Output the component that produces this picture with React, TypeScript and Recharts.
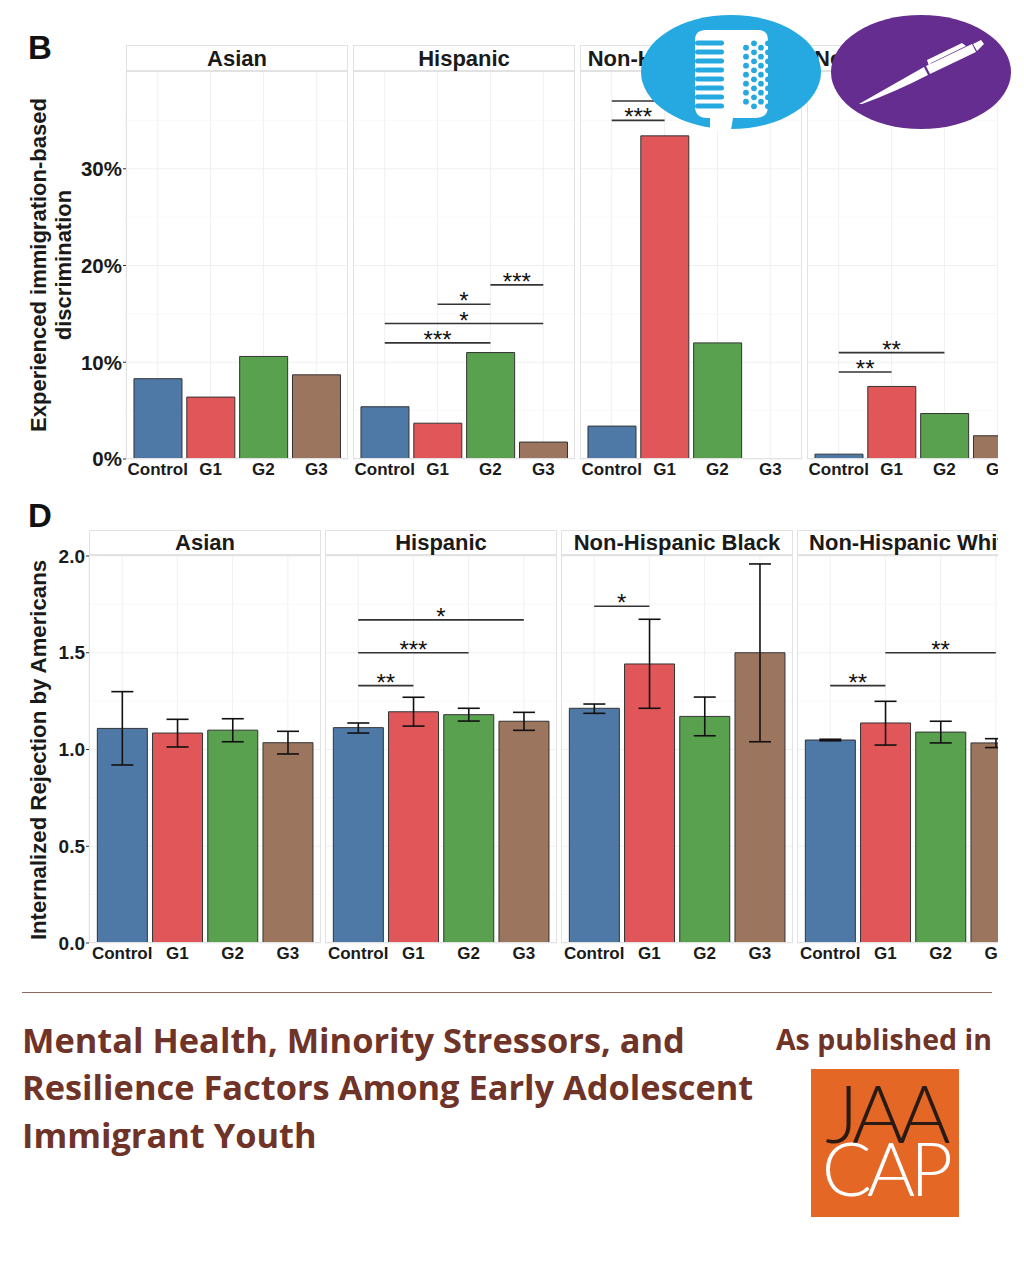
import React from "react";
import {
  BarChart,
  Bar,
  Cell,
  XAxis,
  YAxis,
  CartesianGrid,
  ErrorBar,
  ReferenceLine,
} from "recharts";

const groups = ["Control", "G1", "G2", "G3"];
const groupColors = ["#4e79a7", "#e15759", "#59a14f", "#9c755f"];

// panel B, percent
const asianB = [8.3, 6.4, 10.6, 8.7];
const hispanicB = [5.4, 3.7, 11, 1.75];
const blackB = [3.4, 33.4, 12, 0];
const whiteB = [0.5, 7.5, 4.7, 2.4];

const hispanicBSig = [
  ["Control", "G2", 12, "***"],
  ["Control", "G3", 14, "*"],
  ["G1", "G2", 16, "*"],
  ["G2", "G3", 18, "***"],
];
const blackBSig = [
  ["Control", "G1", 35, "***"],
  ["Control", "G2", 37, ""],
];
const whiteBSig = [
  ["Control", "G1", 9, "**"],
  ["Control", "G2", 11, "**"],
];

// panel D, mean with error bar ends
const asianD = [1.109, 1.085, 1.1, 1.035];
const asianDLow = [0.92, 1.013, 1.04, 0.977];
const asianDHigh = [1.299, 1.156, 1.159, 1.094];
const hispanicD = [1.113, 1.195, 1.18, 1.146];
const hispanicDLow = [1.085, 1.121, 1.147, 1.099];
const hispanicDHigh = [1.137, 1.27, 1.213, 1.192];
const blackD = [1.213, 1.442, 1.171, 1.5];
const blackDLow = [1.187, 1.213, 1.071, 1.04];
const blackDHigh = [1.235, 1.673, 1.271, 1.959];
const whiteD = [1.049, 1.137, 1.09, 1.034];
const whiteDLow = [1.045, 1.023, 1.034, 1.01];
const whiteDHigh = [1.053, 1.249, 1.146, 1.056];

const hispanicDSig = [
  ["Control", "G1", 1.33, "**"],
  ["Control", "G2", 1.5, "***"],
  ["Control", "G3", 1.67, "*"],
];
const blackDSig = [["Control", "G1", 1.74, "*"]];
const whiteDSig = [
  ["Control", "G1", 1.33, "**"],
  ["G1", "G3", 1.5, "**"],
];

const ticksB = [0, 10, 20, 30];
const minorB = [5, 15, 25, 35];
const ticksD = [0, 0.5, 1, 1.5, 2];
const minorD = [0.25, 0.75, 1.25, 1.75];

const SANS = "'Liberation Sans', Arial, sans-serif";
const AXIS_W = 60;
const TOP_PAD = 12;
const BOTTOM_PAD = 30;

function Facet(props: any) {
  const { title, x, width, clipTo, plotTop, plotBottom, stripH, values, low, high, sig, domain, ticks, minor, tickFmt, tickFont, showAxis } = props;
  const plotH = plotBottom - plotTop;
  const rows = groups.map((g, i) => ({
    group: g,
    value: values[i],
    err: low ? [values[i] - low[i], high[i] - values[i]] : undefined,
  }));
  const axisW = showAxis ? AXIS_W : 0;
  const pad = width * 0.024;
  const visibleW = clipTo ? clipTo - x : width;
  return (
    <>
      <div
        style={{
          position: "absolute",
          left: x - axisW,
          top: plotTop - TOP_PAD,
          width: visibleW + axisW,
          height: plotH + TOP_PAD + BOTTOM_PAD,
          overflow: "hidden",
        }}
      >
        <BarChart
          width={width + axisW}
          height={plotH + TOP_PAD + BOTTOM_PAD}
          data={rows}
          margin={{ top: TOP_PAD, right: 0, bottom: 0, left: 0 }}
          barCategoryGap="5%"
        >
          <CartesianGrid stroke="#f0f0f0" strokeWidth={1} horizontalValues={ticks} />
          <CartesianGrid stroke="#f5f5f5" strokeWidth={0.7} vertical={false} horizontalValues={minor} />
          <XAxis
            dataKey="group"
            height={BOTTOM_PAD}
            padding={{ left: pad, right: pad }}
            axisLine={false}
            tickLine={false}
            tickMargin={-2}
            interval={0}
            tick={{ fontFamily: SANS, fontWeight: 700, fontSize: 17, fill: "#1a1a1a" }}
          />
          <YAxis
            hide={!showAxis}
            width={AXIS_W}
            type="number"
            domain={domain}
            ticks={ticks}
            allowDataOverflow
            tickFormatter={tickFmt}
            axisLine={false}
            tickSize={3}
            tickMargin={1}
            tickLine={{ stroke: "#333" }}
            tick={{ fontFamily: SANS, fontWeight: 700, fontSize: tickFont, fill: "#1a1a1a" }}
          />
          <Bar dataKey="value" stroke="#333" strokeWidth={1} isAnimationActive={false}>
            {rows.map((r, i) => (
              <Cell key={r.group} fill={groupColors[i]} />
            ))}
            {low && (
              <ErrorBar dataKey="err" width={11} stroke="#111" strokeWidth={1.6} isAnimationActive={false} />
            )}
          </Bar>
          {(sig || []).map((s: any, i: number) => (
            <ReferenceLine
              key={i}
              segment={[
                { x: s[0], y: s[2] },
                { x: s[1], y: s[2] },
              ]}
              shape={(p: any) => (
                <g>
                  <line x1={p.x1} y1={p.y1} x2={p.x2} y2={p.y2} stroke="#333" strokeWidth={1.6} />
                  <text x={(p.x1 + p.x2) / 2} y={p.y1 + 5} textAnchor="middle" fontFamily={SANS} fontSize={24} fill="#111">
                    {s[3]}
                  </text>
                </g>
              )}
            />
          ))}
        </BarChart>
      </div>
      {/* panel frame and strip */}
      <div
        style={{
          position: "absolute",
          left: x,
          top: plotTop - stripH,
          width: visibleW,
          height: plotH + stripH,
          overflow: "hidden",
          pointerEvents: "none",
        }}
      >
        <div
          style={{
            position: "absolute",
            left: 0,
            top: 0,
            width: width,
            height: plotH + stripH,
            boxSizing: "border-box",
            border: "1.5px solid #e2e2e2",
          }}
        />
        <div
          style={{
            position: "absolute",
            left: 0,
            top: 0,
            width: width,
            height: stripH,
            boxSizing: "border-box",
            borderBottom: "2px solid #e2e2e2",
            textAlign: "center",
            fontFamily: SANS,
            fontWeight: 700,
            fontSize: 22,
            lineHeight: stripH + "px",
            color: "#1a1a1a",
            whiteSpace: "nowrap",
          }}
        >
          {title}
        </div>
      </div>
    </>
  );
}

function RotatedLabel({ cx, cy, size, children }: any) {
  return (
    <div
      style={{
        position: "absolute",
        left: cx,
        top: cy,
        transform: "translate(-50%, -50%) rotate(-90deg)",
        fontFamily: SANS,
        fontWeight: 700,
        fontSize: size,
        color: "#1a1a1a",
        whiteSpace: "nowrap",
      }}
    >
      {children}
    </div>
  );
}

function PanelLetter({ y, children }: any) {
  return (
    <div style={{ position: "absolute", left: 28, top: y, fontFamily: SANS, fontWeight: 700, fontSize: 33, lineHeight: "33px", color: "#111" }}>
      {children}
    </div>
  );
}

const dotRows = [0, 1, 2, 3, 4, 5, 6, 7];

function MicBadge() {
  const stripes = [43, 52, 61, 70, 79, 88, 97, 106];
  return (
    <svg style={{ position: "absolute", left: 0, top: 0 }} width={1024} height={140}>
      <ellipse cx={731} cy={72} rx={90} ry={57} fill="#25a9e0" />
      <path d="M706 30H758Q768 30 768 40V106Q768 118 756 118H733L731 130H710V118H707Q695 118 695 106V40Q695 30 706 30Z" fill="#fff" />
      {stripes.map((y) => (
        <rect key={y} x={695} y={y - 2.5} width={29} height={5} rx={2.5} fill="#25a9e0" />
      ))}
      {[746, 761].map((cx) =>
        dotRows.slice(0, 7).map((k) => <circle key={cx + "-" + k} cx={cx} cy={47.7 + k * 9} r={2.9} fill="#25a9e0" />)
      )}
      {[754, 768].map((cx) =>
        dotRows.map((k) => <circle key={cx + "-" + k} cx={cx} cy={43.3 + k * 9} r={2.9} fill="#25a9e0" />)
      )}
      <ellipse cx={921} cy={72} rx={90} ry={57} fill="#652d90" />
      <path d="M859 104L924 67L928 75Q895 92 862 104Z" fill="#fff" />
      <path d="M926 66L972 44L976 52L930 74Z" fill="#fff" />
      <path d="M973 44L981 40L984 44L977 51Z" fill="#fff" />
      <path d="M927 60L962 43L966 46L931 63L929 66Z" fill="#fff" />
    </svg>
  );
}

function Footer() {
  const titleStyle: React.CSSProperties = {
    position: "absolute",
    left: 22,
    fontFamily: "'Open Sans', sans-serif",
    fontWeight: 700,
    fontSize: 34.4,
    lineHeight: "47px",
    color: "#6f3328",
    whiteSpace: "nowrap",
  };
  return (
    <>
      <div style={{ position: "absolute", left: 22, top: 992, width: 970, height: 1, background: "#8a6a60" }} />
      <div style={{ ...titleStyle, top: 1016 }}>Mental Health, Minority Stressors, and</div>
      <div style={{ ...titleStyle, top: 1063 }}>Resilience Factors Among Early Adolescent</div>
      <div style={{ ...titleStyle, top: 1111 }}>Immigrant Youth</div>
      <div style={{ ...titleStyle, left: "auto", right: 32, top: 1016, fontSize: 28.5 }}>As published in</div>
      <div style={{ position: "absolute", left: 811, top: 1069, width: 148, height: 148, background: "#e56726", overflow: "hidden", fontFamily: "Lato, sans-serif", fontWeight: 300, textAlign: "center" }}>
        <div style={{ position: "absolute", left: 0, right: 0, top: 3, fontSize: 80, lineHeight: "80px", letterSpacing: -6, color: "#2a1a14" }}>JAA</div>
        <div style={{ position: "absolute", left: 0, right: 0, top: 62, fontSize: 74, lineHeight: "74px", letterSpacing: -5, color: "#fff" }}>CAP</div>
      </div>
    </>
  );
}

export default function App() {
  const pct = (v: number) => `${v}%`;
  const dec = (v: number) => v.toFixed(1);
  const b = { plotTop: 72, plotBottom: 459, stripH: 27, domain: [0, 40], ticks: ticksB, minor: minorB, tickFmt: pct, tickFont: 20.5, width: 222 };
  const d = { plotTop: 556, plotBottom: 943, stripH: 26, domain: [0, 2], ticks: ticksD, minor: minorD, tickFmt: dec, tickFont: 19, width: 232 };
  return (
    <div style={{ position: "absolute", left: 0, top: 0, width: 1024, height: 1280, background: "#fff", overflow: "hidden" }}>
      <PanelLetter y={31}>B</PanelLetter>
      <PanelLetter y={499}>D</PanelLetter>
      <RotatedLabel cx={39} cy={265} size={22}>Experienced immigration-based</RotatedLabel>
      <RotatedLabel cx={64} cy={265} size={22}>discrimination</RotatedLabel>
      <RotatedLabel cx={39} cy={750} size={22.2}>Internalized Rejection by Americans</RotatedLabel>

      <Facet {...b} title="Asian" x={126} values={asianB} showAxis />
      <Facet {...b} title="Hispanic" x={353} values={hispanicB} sig={hispanicBSig} />
      <Facet {...b} title="Non-Hispanic Black" x={580} values={blackB} sig={blackBSig} />
      <Facet {...b} title="Non-Hispanic White" x={807} clipTo={998} values={whiteB} sig={whiteBSig} />

      <Facet {...d} title="Asian" x={89} values={asianD} low={asianDLow} high={asianDHigh} showAxis />
      <Facet {...d} title="Hispanic" x={325} values={hispanicD} low={hispanicDLow} high={hispanicDHigh} sig={hispanicDSig} />
      <Facet {...d} title="Non-Hispanic Black" x={561} values={blackD} low={blackDLow} high={blackDHigh} sig={blackDSig} />
      <Facet {...d} title="Non-Hispanic White" x={797} clipTo={998} values={whiteD} low={whiteDLow} high={whiteDHigh} sig={whiteDSig} />

      <MicBadge />
      <Footer />
    </div>
  );
}
